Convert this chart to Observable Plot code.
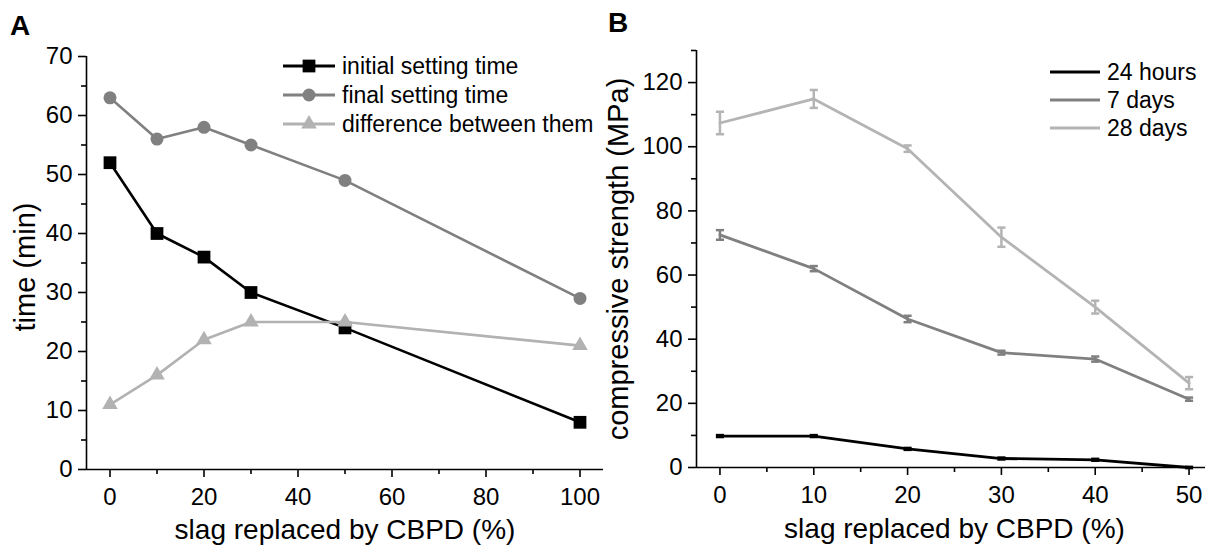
<!DOCTYPE html>
<html><head><meta charset="utf-8">
<script src="https://cdn.jsdelivr.net/npm/d3@7"></script>
<script src="https://cdn.jsdelivr.net/npm/@observablehq/plot@0.6"></script>
<style>
html,body{margin:0;padding:0;background:#fff;overflow:hidden;}
#root{position:relative;width:1205px;height:554px;overflow:hidden;font-family:"Liberation Sans",Arial,sans-serif;color:#000;}
.panel{position:absolute;top:0;}
.letter{position:absolute;font-weight:bold;font-size:28px;line-height:28px;}
.legend{position:absolute;font-size:23px;}
.legend .row{position:absolute;left:0;display:flex;align-items:center;white-space:nowrap;height:26px;}
.legend svg{display:block;}
#root g[aria-label$="tick label"]{font-size:24px;}
</style></head><body><div id="root"></div>
<script>
// ---------- Panel A data: setting time ----------
const settingReplacement = [0, 10, 20, 30, 50, 100];
const initialSettingTime = [52, 40, 36, 30, 24, 8];
const finalSettingTime = [63, 56, 58, 55, 49, 29];
const settingTimeDifference = [11, 16, 22, 25, 25, 21];
const settingSeries = ["initial setting time", "final setting time", "difference between them"];
const settingColors = ["#000000", "#808080", "#b2b2b2"];
const settingSymbols = ["square", "circle", "triangle"];
const xTicksA = [0, 20, 40, 60, 80, 100];
const xMinorA = [10, 30, 50, 70, 90];
const yTicksA = [0, 10, 20, 30, 40, 50, 60, 70];
const yMinorA = [5, 15, 25, 35, 45, 55, 65];
const xDomainA = [-5, 105];
const yDomainA = [0, 70];

// ---------- Panel B data: compressive strength ----------
const strengthReplacement = [0, 10, 20, 30, 40, 50];
const strength24h = [9.8, 9.8, 5.8, 2.8, 2.4, 0];
const error24h = [0.3, 0.3, 0.3, 0.3, 0.3, 0.2];
const strength7d = [72.5, 62, 46.3, 35.8, 33.8, 21.3];
const error7d = [1.5, 0.8, 1.0, 0.6, 0.8, 0.5];
const strength28d = [107.4, 114.9, 99.4, 71.8, 50.0, 26.3];
const error28d = [3.5, 2.8, 1.0, 3.0, 2.0, 1.9];
const strengthSeries = ["24 hours", "7 days", "28 days"];
const strengthColors = ["#000000", "#808080", "#b4b4b4"];
const xTicksB = [0, 10, 20, 30, 40, 50];
const xMinorB = [5, 15, 25, 35, 45];
const yTicksB = [0, 20, 40, 60, 80, 100, 120];
const yMinorB = [10, 30, 50, 70, 90, 110, 130];
const xDomainB = [-2.5, 52.5];
const yDomainB = [0, 130];

const FONT = '"Liberation Sans", Arial, sans-serif';

// tables built from the arrays
const settingValues = [initialSettingTime, finalSettingTime, settingTimeDifference];
const settingRows = settingSeries.map((s, i) =>
  settingReplacement.map((x, j) => ({series: s, x, y: settingValues[i][j]})));
const strengthValues = [strength24h, strength7d, strength28d];
const strengthErrors = [error24h, error7d, error28d];
const strengthRows = strengthSeries.map((s, i) =>
  strengthReplacement.map((x, j) => ({series: s, x, y: strengthValues[i][j],
    lo: strengthValues[i][j] - strengthErrors[i][j], hi: strengthValues[i][j] + strengthErrors[i][j]})));

const capSymbol = {draw(ctx, size) { const w = Math.sqrt(size); ctx.moveTo(-w / 2, 0); ctx.lineTo(w / 2, 0); }};
const symbolR = {square: 7.2, circle: 6.5, triangle: 5.8};

function axes(xTicks, xMinor, yTicks, yMinor, xDom, yDom) {
  return [
    Plot.ruleY([yDom[0]], {strokeWidth: 1.6}),
    Plot.ruleX([xDom[0]], {strokeWidth: 1.6}),
    Plot.axisX({ticks: xTicks, tickSize: 8, tickPadding: 10, strokeWidth: 1.6, fontSize: 24, label: null}),
    Plot.axisX({ticks: xMinor, tickSize: 5, strokeWidth: 1.6, tickFormat: () => "", label: null}),
    Plot.axisY({ticks: yTicks, tickSize: 8, tickPadding: 6, strokeWidth: 1.6, fontSize: 24, label: null}),
    Plot.axisY({ticks: yMinor, tickSize: 5, strokeWidth: 1.6, tickFormat: () => "", label: null})
  ];
}

// ---------- Plot A ----------
const marksA = [...axes(xTicksA, xMinorA, yTicksA, yMinorA, xDomainA, yDomainA)];
settingRows.forEach((rows, i) => {
  marksA.push(Plot.line(rows, {x: "x", y: "y", stroke: settingColors[i], strokeWidth: 2.6}));
  marksA.push(Plot.dot(rows, {x: "x", y: "y", symbol: settingSymbols[i], r: symbolR[settingSymbols[i]], fill: settingColors[i], stroke: "none"}));
});
marksA.push(Plot.text(["time (min)"], {text: d => d, frameAnchor: "left", textAnchor: "middle", rotate: -90, dx: -61, dy: 4, fontSize: 29, fill: "#000"}));
marksA.push(Plot.text(["slag replaced by CBPD (%)"], {text: d => d, frameAnchor: "bottom", dy: 69, fontSize: 28, fill: "#000"}));

const plotA = Plot.plot({
  width: 610, height: 554,
  marginLeft: 86, marginRight: 7, marginTop: 56, marginBottom: 85,
  x: {domain: xDomainA, label: null},
  y: {domain: yDomainA, label: null},
  style: {fontFamily: FONT, fontSize: "24px", background: "transparent", maxWidth: "none", color: "#000", overflow: "visible"},
  marks: marksA
});

// ---------- Plot B ----------
const marksB = [...axes(xTicksB, xMinorB, yTicksB, yMinorB, xDomainB, yDomainB)];
[2, 1, 0].forEach(i => {
  const rows = strengthRows[i];
  marksB.push(Plot.line(rows, {x: "x", y: "y", stroke: strengthColors[i], strokeWidth: 2.8}));
  marksB.push(Plot.ruleX(rows, {x: "x", y1: "lo", y2: "hi", stroke: strengthColors[i], strokeWidth: 2.5}));
  marksB.push(Plot.dot(rows, {x: "x", y: "lo", symbol: capSymbol, r: 4.6, stroke: strengthColors[i], fill: "none", strokeWidth: 2.5}));
  marksB.push(Plot.dot(rows, {x: "x", y: "hi", symbol: capSymbol, r: 4.6, stroke: strengthColors[i], fill: "none", strokeWidth: 2.5}));
});
marksB.push(Plot.text(["compressive strength (MPa)"], {text: d => d, frameAnchor: "left", textAnchor: "middle", rotate: -90, dx: -78, dy: 0, fontSize: 29, fill: "#000"}));
marksB.push(Plot.text(["slag replaced by CBPD (%)"], {text: d => d, frameAnchor: "bottom", dy: 70, fontSize: 28, fill: "#000"}));

const plotB = Plot.plot({
  width: 612, height: 554,
  marginLeft: 96, marginRight: 0, marginTop: 50, marginBottom: 87,
  x: {domain: xDomainB, label: null},
  y: {domain: yDomainB, label: null},
  style: {fontFamily: FONT, fontSize: "24px", background: "transparent", maxWidth: "none", color: "#000", overflow: "visible"},
  marks: marksB
});

// ---------- layout ----------
const root = document.getElementById("root");
function place(node, left) {
  const d = document.createElement("div");
  d.className = "panel"; d.style.left = left + "px";
  node.style.maxWidth = "none";
  d.appendChild(node); root.appendChild(d);
}
place(plotA, 0);
place(plotB, 600);

function letter(t, left, top) {
  const d = document.createElement("div");
  d.className = "letter"; d.textContent = t;
  d.style.left = left + "px"; d.style.top = top + "px";
  root.appendChild(d);
}
letter("A", 10, 12);
letter("B", 608, 9);

function legend(left, centers, names, colors, symbols, swatchW, gap) {
  const box = document.createElement("div");
  box.className = "legend"; box.style.left = left + "px"; box.style.top = "0px";
  names.forEach((name, i) => {
    const row = document.createElement("div");
    row.className = "row"; row.style.top = (centers[i] - 13) + "px";
    const svg = d3.create("svg").attr("width", swatchW).attr("height", 18).style("margin-right", gap + "px");
    svg.append("line").attr("x1", 0).attr("x2", swatchW).attr("y1", 9).attr("y2", 9)
      .attr("stroke", colors[i]).attr("stroke-width", 2.8);
    if (symbols) {
      const type = {square: d3.symbolSquare, circle: d3.symbolCircle, triangle: d3.symbolTriangle}[symbols[i]];
      const r = symbolR[symbols[i]];
      svg.append("path").attr("d", d3.symbol(type, Math.PI * r * r)())
        .attr("transform", `translate(${swatchW / 2},9)`).attr("fill", colors[i]);
    }
    row.appendChild(svg.node());
    const span = document.createElement("span"); span.textContent = name;
    row.appendChild(span);
    box.appendChild(row);
  });
  root.appendChild(box);
}
legend(283, [66, 95, 124], settingSeries, settingColors, settingSymbols, 52, 7);
legend(1050, [72, 100, 128], strengthSeries, strengthColors, null, 50, 7);
</script></body></html>
